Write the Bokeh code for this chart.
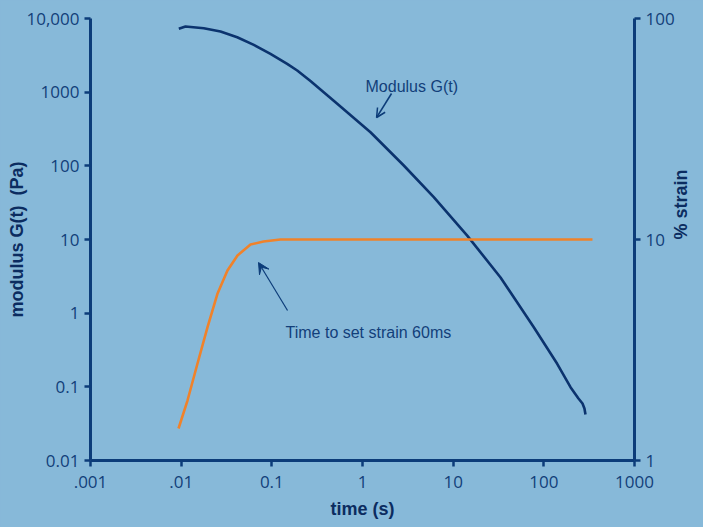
import math
from bokeh.plotting import figure
from bokeh.models import Range1d, LogAxis, LogScale, FixedTicker, Label, Arrow, VeeHead, OpenHead
from bokeh.embed import file_html
from bokeh.resources import INLINE

# ---------------- data ----------------
modulus_time = [0.00942, 0.01116, 0.01776, 0.02715, 0.0415, 0.06324, 0.0966, 0.1476, 0.1905,
                0.2667, 0.5265, 1.225, 2.853, 6.11, 14.29, 33.3, 77.5, 140.4, 196.9,
                241, 267, 280.5, 288]
modulus_G = [7244, 7780, 7379, 6653, 5568, 4393, 3318, 2427, 1968,
             1417, 695, 286, 101, 37.5, 11.3, 3.05, 0.645, 0.2054, 0.0988,
             0.0694, 0.0594, 0.0508, 0.0421]

strain_time = [0.00935, 0.01174, 0.01514, 0.0195, 0.0252, 0.0324, 0.0418, 0.0582, 0.0809, 0.1246, 344]
strain_pct = [1.396, 1.868, 2.747, 4.00, 5.70, 7.24, 8.47, 9.49, 9.79, 10.0, 10.0]

x_ticks = [0.001, 0.01, 0.1, 1, 10, 100, 1000]
x_tick_labels = [".001", ".01", "0.1", "1", "10", "100", "1000"]
y_ticks = [0.01, 0.1, 1, 10, 100, 1000, 10000]
y_tick_labels = ["0.01", "0.1", "1", "10", "100", "1000", "10,000"]
strain_ticks = [1, 10, 100]
strain_tick_labels = ["1", "10", "100"]

modulus_label = "Modulus G(t)"
modulus_label_pos = (1.08, 1194)
modulus_arrow = (2.09, 959, 1.43, 453)
strain_label = "Time to set strain 60ms"
strain_label_pos = (0.1416, 0.546)
strain_arrow = (0.149, 1.087, 0.0713, 4.87)

# ---------------- styles ----------------
BG = "#87b9d9"
AXIS = "#0c3c79"
TEXT = "#123f7a"
TITLE = "#0b2c60"
BLUE = "#0b336e"
ORANGE = "#f0822a"
TICK_FONT = "Open Sans"
ANN_FONT = "Liberation Sans"

p = figure(width=703, height=527, x_axis_type="log", y_axis_type="log",
           x_range=Range1d(0.001, 1000), y_range=Range1d(0.01, 10000),
           output_backend="svg", toolbar_location=None,
           min_border_left=90, min_border_right=69, min_border_top=18, min_border_bottom=67,
           background_fill_color=BG, border_fill_color=BG, outline_line_color=None)
p.extra_y_ranges = {"strain": Range1d(1, 100)}
p.extra_y_scales = {"strain": LogScale()}
p.grid.visible = False


def style_axis(ax, ticks, labels, standoff):
    ax.ticker = FixedTicker(ticks=ticks, minor_ticks=[])
    ax.major_label_overrides = dict(zip(ticks, labels))
    ax.axis_line_color = AXIS
    ax.axis_line_width = 3
    ax.major_tick_line_color = AXIS
    ax.major_tick_line_width = 2.5
    ax.major_tick_out = 6
    ax.major_tick_in = 0
    ax.minor_tick_line_color = None
    ax.major_label_text_font = TICK_FONT
    ax.major_label_text_font_size = "17px"
    ax.major_label_text_color = TEXT
    ax.major_label_standoff = standoff
    ax.axis_label_text_font = ANN_FONT
    ax.axis_label_text_font_style = "bold"
    ax.axis_label_text_font_size = "18px"
    ax.axis_label_text_color = TITLE


xa = p.xaxis[0]
style_axis(xa, x_ticks, x_tick_labels, 9)
xa.axis_label = "time (s)"
xa.axis_label_standoff = 8

ya = p.yaxis[0]
style_axis(ya, y_ticks, y_tick_labels, 5)
ya.axis_label = "modulus G(t) \u00a0(Pa)"
ya.axis_label_standoff = -4

ra = LogAxis(y_range_name="strain")
style_axis(ra, strain_ticks, strain_tick_labels, 5)
ra.axis_label = "% strain"
ra.axis_label_standoff = 3
try:
    ra.axis_label_orientation = math.pi / 2
except AttributeError:
    pass
p.add_layout(ra, "right")

p.line(modulus_time, modulus_G, line_color=BLUE, line_width=2.6)
p.line(strain_time, strain_pct, y_range_name="strain", line_color=ORANGE, line_width=2.6)

p.add_layout(Label(x=modulus_label_pos[0], y=modulus_label_pos[1], text=modulus_label,
                   text_font=ANN_FONT, text_font_size="16px", text_color=TEXT,
                   text_baseline="alphabetic"))
p.add_layout(Label(x=strain_label_pos[0], y=strain_label_pos[1], text=strain_label,
                   text_font=ANN_FONT, text_font_size="16px", text_color=TEXT,
                   text_baseline="middle"))
p.add_layout(Arrow(x_start=modulus_arrow[0], y_start=modulus_arrow[1],
                   x_end=modulus_arrow[2], y_end=modulus_arrow[3],
                   line_color=AXIS, line_width=1.5,
                   end=OpenHead(size=9, line_color=AXIS, line_width=1.5)))
p.add_layout(Arrow(x_start=strain_arrow[0], y_start=strain_arrow[1],
                   x_end=strain_arrow[2], y_end=strain_arrow[3],
                   line_color=AXIS, line_width=1.2,
                   end=VeeHead(size=11, line_color=AXIS, fill_color=AXIS, line_width=1)))

html = file_html(p, INLINE)
html = html.replace("</head>", "<style>html,body{background:%s;}</style></head>" % BG, 1)
open("out.html", "w").write(html)
